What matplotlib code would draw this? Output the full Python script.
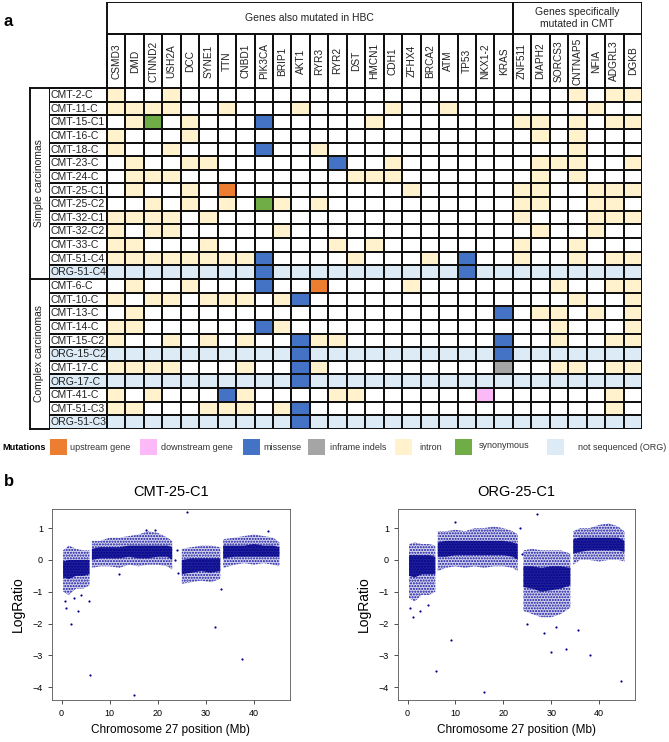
import numpy as np
import matplotlib
matplotlib.use('Agg')
import matplotlib.pyplot as plt
from matplotlib.colors import ListedColormap
from matplotlib.patches import Rectangle

plt.rcParams['font.family'] = ['Liberation Sans', 'DejaVu Sans']
plt.rcParams['hatch.linewidth'] = 1.0

# ---- panel a data ----
genes_hbc = ['CSMD3', 'DMD', 'CTNND2', 'USH2A', 'DCC', 'SYNE1', 'TTN', 'CNBD1', 'PIK3CA',
             'BRIP1', 'AKT1', 'RYR3', 'RYR2', 'DST', 'HMCN1', 'CDH1', 'ZFHX4', 'BRCA2',
             'ATM', 'TP53', 'NKX1-2', 'KRAS']
genes_cmt = ['ZNF511', 'DIAPH2', 'SORCS3', 'CNTNAP5', 'NFIA', 'ADGRL3', 'DGKB']
genes = genes_hbc + genes_cmt

simple = ['CMT-2-C', 'CMT-11-C', 'CMT-15-C1', 'CMT-16-C', 'CMT-18-C', 'CMT-23-C', 'CMT-24-C',
          'CMT-25-C1', 'CMT-25-C2', 'CMT-32-C1', 'CMT-32-C2', 'CMT-33-C', 'CMT-51-C4', 'ORG-51-C4']
complex_ = ['CMT-6-C', 'CMT-10-C', 'CMT-13-C', 'CMT-14-C', 'CMT-15-C2', 'ORG-15-C2', 'CMT-17-C',
            'ORG-17-C', 'CMT-41-C', 'CMT-51-C3', 'ORG-51-C3']
samples = simple + complex_

intron = {
    'CMT-2-C': ['CSMD3', 'USH2A', 'CNTNAP5', 'ADGRL3', 'DGKB'],
    'CMT-11-C': ['CSMD3', 'DMD', 'CTNND2', 'USH2A', 'TTN', 'AKT1', 'CDH1', 'ATM', 'NFIA'],
    'CMT-15-C1': ['DMD', 'DCC', 'HMCN1', 'ZNF511', 'DIAPH2', 'CNTNAP5', 'ADGRL3', 'DGKB'],
    'CMT-16-C': ['CSMD3', 'DCC', 'DIAPH2', 'CNTNAP5'],
    'CMT-18-C': ['CSMD3', 'USH2A', 'RYR3', 'CNTNAP5'],
    'CMT-23-C': ['DMD', 'DCC', 'SYNE1', 'CDH1', 'DIAPH2', 'SORCS3', 'CNTNAP5', 'DGKB'],
    'CMT-24-C': ['DMD', 'CTNND2', 'USH2A', 'DST', 'HMCN1', 'CDH1', 'DIAPH2', 'CNTNAP5'],
    'CMT-25-C1': ['DMD', 'DCC', 'ZFHX4', 'ZNF511', 'DIAPH2', 'NFIA', 'ADGRL3', 'DGKB'],
    'CMT-25-C2': ['CTNND2', 'DCC', 'TTN', 'BRIP1', 'RYR3', 'ZNF511', 'DIAPH2', 'NFIA', 'ADGRL3'],
    'CMT-32-C1': ['CSMD3', 'DMD', 'CTNND2', 'USH2A', 'SYNE1', 'ZNF511', 'NFIA', 'ADGRL3', 'DGKB'],
    'CMT-32-C2': ['CSMD3', 'CTNND2', 'USH2A', 'BRIP1', 'DIAPH2', 'NFIA'],
    'CMT-33-C': ['CSMD3', 'DMD', 'SYNE1', 'RYR2', 'HMCN1', 'ZNF511', 'CNTNAP5'],
    'CMT-51-C4': ['CSMD3', 'DMD', 'CTNND2', 'USH2A', 'DCC', 'SYNE1', 'TTN', 'CNBD1', 'DST',
                  'BRCA2', 'ZNF511', 'CNTNAP5', 'ADGRL3', 'DGKB'],
    'CMT-6-C': ['DMD', 'DCC', 'ZFHX4', 'SORCS3', 'ADGRL3', 'DGKB'],
    'CMT-10-C': ['CSMD3', 'CTNND2', 'USH2A', 'SYNE1', 'TTN', 'CNBD1', 'BRIP1', 'CNTNAP5', 'DGKB'],
    'CMT-13-C': ['DMD', 'DIAPH2', 'SORCS3', 'NFIA', 'DGKB'],
    'CMT-14-C': ['CSMD3', 'DMD', 'BRIP1', 'SORCS3', 'DGKB'],
    'CMT-15-C2': ['CSMD3', 'USH2A', 'SYNE1', 'CNBD1', 'RYR3', 'RYR2', 'SORCS3', 'ADGRL3', 'DGKB'],
    'CMT-17-C': ['CSMD3', 'DMD', 'CTNND2', 'USH2A', 'CNBD1', 'RYR3', 'SORCS3', 'CNTNAP5',
                 'ADGRL3', 'DGKB'],
    'CMT-41-C': ['CSMD3', 'CTNND2', 'CNBD1', 'RYR2', 'DST', 'ADGRL3'],
    'CMT-51-C3': ['CSMD3', 'DMD', 'SYNE1', 'TTN', 'CNBD1', 'BRIP1', 'ADGRL3'],
}

coding = {
    'CMT-15-C1': [('CTNND2', 'synonymous'), ('PIK3CA', 'missense')],
    'CMT-18-C': [('PIK3CA', 'missense')],
    'CMT-23-C': [('RYR2', 'missense')],
    'CMT-25-C1': [('TTN', 'upstream')],
    'CMT-25-C2': [('PIK3CA', 'synonymous')],
    'CMT-51-C4': [('PIK3CA', 'missense'), ('TP53', 'missense')],
    'ORG-51-C4': [('PIK3CA', 'missense'), ('TP53', 'missense')],
    'CMT-6-C': [('PIK3CA', 'missense'), ('RYR3', 'upstream')],
    'CMT-10-C': [('AKT1', 'missense')],
    'CMT-13-C': [('KRAS', 'missense')],
    'CMT-14-C': [('PIK3CA', 'missense')],
    'CMT-15-C2': [('AKT1', 'missense'), ('KRAS', 'missense')],
    'ORG-15-C2': [('AKT1', 'missense'), ('KRAS', 'missense')],
    'CMT-17-C': [('AKT1', 'missense'), ('KRAS', 'inframe')],
    'ORG-17-C': [('AKT1', 'missense')],
    'CMT-41-C': [('TTN', 'missense'), ('NKX1-2', 'downstream')],
    'CMT-51-C3': [('AKT1', 'missense')],
    'ORG-51-C3': [('AKT1', 'missense')],
}

cat_names = ['none', 'upstream', 'downstream', 'missense', 'inframe', 'intron', 'synonymous', 'notseq']
cat_colors = ['#FFFFFF', '#ED7D31', '#FBB9F7', '#4472C4', '#A5A5A5', '#FFF2CC', '#70AD47', '#DDEBF7']
legend_labels = ['upstream gene', 'downstream gene', 'missense', 'inframe indels', 'intron',
                 'synonymous', 'not sequenced (ORG)']

# ---- panel b data: chromosome 27 log-ratio profiles ----
# positions in Mb; outer and dense-core envelopes of the point cloud, NaN = gap
cmt_x       = [0.3, 1.5, 3.0, 4.5, 5.8, np.nan, 6.3, 8, 10, 12, 14, 16, 18, 20, 22, 23.0, np.nan,
               25.0, 27, 29, 31, 33.0, np.nan, 33.6, 36, 38, 40, 42, 44, 45.3]
cmt_lo      = [-1.0, -1.1, -0.9, -0.9, -0.8, np.nan, -0.25, -0.2, -0.2, -0.25, -0.15, -0.2, -0.15, -0.15, -0.2, -0.3, np.nan,
               -0.75, -0.7, -0.65, -0.7, -0.6, np.nan, -0.25, -0.15, -0.1, -0.15, -0.1, -0.15, -0.2]
cmt_hi      = [0.3, 0.45, 0.35, 0.3, 0.3, np.nan, 0.6, 0.6, 0.7, 0.7, 0.75, 0.8, 0.9, 0.85, 0.7, 0.6, np.nan,
               0.35, 0.4, 0.45, 0.45, 0.4, np.nan, 0.65, 0.7, 0.75, 0.8, 0.75, 0.7, 0.55]
cmt_core_lo = [-0.55, -0.6, -0.5, -0.5, -0.45, np.nan, 0.0, 0.05, 0.05, 0.05, 0.1, 0.05, 0.05, 0.1, 0.1, 0.0, np.nan,
               -0.45, -0.4, -0.35, -0.4, -0.35, np.nan, 0.05, 0.1, 0.1, 0.1, 0.1, 0.1, 0.1]
cmt_core_hi = [-0.05, 0.0, 0.0, 0.0, 0.0, np.nan, 0.35, 0.4, 0.4, 0.4, 0.45, 0.45, 0.45, 0.45, 0.45, 0.4, np.nan,
               0.0, 0.05, 0.05, 0.05, 0.05, np.nan, 0.45, 0.45, 0.45, 0.5, 0.45, 0.45, 0.4]
cmt_out_x = [1.0, 2.0, 2.5, 3.4, 5.6, 6.0, 15.0, 24.0, 24.3, 26.0, 32.0, 37.5, 17.5, 19.5, 43.0,
             0.6, 4.0, 23.6, 33.2, 12.0]
cmt_out_y = [-1.5, -2.0, -1.2, -1.6, -1.3, -3.6, -4.25, 0.3, -0.4, 1.5, -2.1, -3.1, 0.95, 0.95, 0.9,
             -1.3, -1.1, 0.0, -0.9, -0.45]

org_x       = [0.3, 1.5, 3.0, 4.5, 5.8, np.nan, 6.3, 8, 10, 12, 14, 16, 18, 20, 22, 23.0, np.nan,
               24.2, 26, 28, 30, 32, 34.0, np.nan, 34.6, 36, 38, 40, 42, 44, 45.3]
org_lo      = [-1.2, -1.3, -1.1, -1.1, -1.0, np.nan, -0.35, -0.25, -0.2, -0.25, -0.2, -0.25, -0.2, -0.2, -0.25, -0.35, np.nan,
               -1.6, -1.7, -1.8, -1.8, -1.7, -1.5, np.nan, -0.15, 0.0, 0.0, -0.05, 0.0, 0.0, -0.05]
org_hi      = [0.5, 0.55, 0.5, 0.5, 0.45, np.nan, 0.9, 0.9, 0.95, 0.9, 1.0, 1.0, 1.05, 1.0, 0.9, 0.8, np.nan,
               0.3, 0.35, 0.3, 0.3, 0.3, 0.2, np.nan, 0.9, 1.0, 1.0, 1.1, 1.15, 1.05, 0.9]
org_core_lo = [-0.5, -0.55, -0.45, -0.45, -0.45, np.nan, 0.1, 0.1, 0.15, 0.15, 0.15, 0.15, 0.15, 0.15, 0.1, 0.0, np.nan,
               -0.85, -0.9, -1.0, -0.95, -0.9, -0.8, np.nan, 0.2, 0.25, 0.3, 0.3, 0.3, 0.3, 0.25]
org_core_hi = [0.15, 0.15, 0.15, 0.15, 0.1, np.nan, 0.55, 0.6, 0.6, 0.6, 0.6, 0.6, 0.6, 0.6, 0.55, 0.5, np.nan,
               -0.2, -0.2, -0.25, -0.2, -0.2, -0.25, np.nan, 0.65, 0.7, 0.7, 0.7, 0.7, 0.7, 0.6]
org_out_x = [0.5, 1.2, 6.0, 9.0, 16.0, 23.5, 27.0, 28.5, 30.0, 33.0, 38.0, 44.5, 35.5, 10.0,
             2.5, 4.2, 25.0, 31.0, 23.8]
org_out_y = [-1.5, -1.8, -3.5, -2.5, -4.15, 1.0, 1.45, -2.3, -2.9, -2.8, -3.0, -3.8, -2.2, 1.2,
             -1.6, -1.4, -2.0, -2.1, 0.2]

# ---- figure ----
W, H = 669, 742
fig = plt.figure(figsize=(W / 100, H / 100), dpi=100)

# pixel layout of the grid
gx0, gx1 = 107, 642        # gene columns
lx0 = 49                   # row label column
gy_top, gy0, gy1 = 2, 34, 88
gy_bot = 429
ncol, nrow = len(genes), len(samples)
cw = (gx1 - gx0) / ncol
rh = (gy_bot - gy1) / nrow
lab_w = (gx0 - lx0) / cw
hdr_h = (gy1 - gy0) / rh
grp_h = (gy0 - gy_top) / rh

ax = fig.add_axes([lx0 / W, 1 - gy_bot / H, (gx1 - lx0) / W, (gy_bot - gy_top) / H])
ax.set_xlim(-lab_w, ncol)
ax.set_ylim(nrow, -hdr_h - grp_h)
ax.axis('off')

codes = np.zeros((nrow, ncol + 1), dtype=int)
for i, s in enumerate(samples):
    if s.startswith('ORG'):
        codes[i, :] = cat_names.index('notseq')
    for g in intron.get(s, []):
        codes[i, genes.index(g) + 1] = cat_names.index('intron')
    for g, kind in coding.get(s, []):
        codes[i, genes.index(g) + 1] = cat_names.index(kind)

xe = np.concatenate([[-lab_w], np.arange(ncol + 1)])
ye = np.arange(nrow + 1)
cmap = ListedColormap(cat_colors)
ax.pcolormesh(xe, ye, codes, cmap=cmap, vmin=-0.5, vmax=len(cat_colors) - 0.5,
              edgecolors='#111111', linewidth=1.4)
# gene header cells
ax.pcolormesh(np.arange(ncol + 1), [-hdr_h, 0], np.zeros((1, ncol)), cmap=cmap,
              vmin=-0.5, vmax=len(cat_colors) - 0.5, edgecolors='#111111', linewidth=1.4)
for x0, x1 in [(0, len(genes_hbc)), (len(genes_hbc), ncol)]:
    ax.add_patch(Rectangle((x0, -hdr_h - grp_h), x1 - x0, grp_h, fill=False,
                           edgecolor='#111111', linewidth=1.4))
ax.text(len(genes_hbc) / 2, -hdr_h - grp_h / 2, 'Genes also mutated in HBC',
        ha='center', va='center', fontsize=7.5, color='#222222')
ax.text((len(genes_hbc) + ncol) / 2, -hdr_h - grp_h / 2, 'Genes specifically\nmutated in CMT',
        ha='center', va='center', fontsize=7.5, linespacing=1.3, color='#222222')
for j, g in enumerate(genes):
    ax.text(j + 0.5, -hdr_h / 2, g, rotation=90, ha='center', va='center', fontsize=7.3,
            color='#222222')
for i, s in enumerate(samples):
    ax.text(-lab_w + 0.1, i + 0.52, s, ha='left', va='center', fontsize=7.6, color='#222222')

# overlay in pixel coordinates for annotations
ov = fig.add_axes([0, 0, 1, 1])
ov.set_xlim(0, W)
ov.set_ylim(H, 0)
ov.axis('off')
ov.patch.set_alpha(0)

ov.text(4, 22, 'a', fontsize=12, fontweight='bold', va='center')
ov.text(4, 482, 'b', fontsize=12, fontweight='bold', va='center')

# row group bracket
sep_y = gy1 + len(simple) * rh
ov.plot([30, 30], [gy1, gy_bot], color='#111111', lw=1.4)
for yy in [gy1, sep_y, gy_bot]:
    ov.plot([30, lx0], [yy, yy], color='#111111', lw=1.4)
ov.text(39, (gy1 + sep_y) / 2, 'Simple carcinomas', rotation=90, ha='center', va='center',
        fontsize=7.5, color='#222222')
ov.text(39, (sep_y + gy_bot) / 2, 'Complex carcinomas', rotation=90, ha='center', va='center',
        fontsize=7.5, color='#222222')

# legend
leg_y = 447
ov.text(2, leg_y, 'Mutations', fontweight='bold', fontsize=6.6, va='center')
patch_x = [50, 140, 243, 308, 395, 455, 547]
text_x = [70, 161, 263, 330, 419, 479, 578]
for k, lab in enumerate(legend_labels):
    ov.add_patch(Rectangle((patch_x[k], leg_y - 8), 17, 16, color=cat_colors[k + 1], lw=0))
    ov.text(text_x[k], leg_y - (2 if lab == 'synonymous' else 0), lab, fontsize=6.5,
            va='center', color='#333333')

# panel b scatter plots
def cn_panel(rect, title, x, lo, hi, clo, chi, ox, oy):
    a = fig.add_axes([rect[0] / W, 1 - rect[3] / H, (rect[2] - rect[0]) / W, (rect[3] - rect[1]) / H])
    a.fill_between(x, lo, hi, color='#1010A0', alpha=0.18, lw=0)
    a.fill_between(x, lo, hi, facecolor='none', edgecolor='#1010A0', hatch='......', lw=0)
    a.fill_between(x, clo, chi, color='#00008B', alpha=0.85, lw=0)
    a.scatter(ox, oy, s=2.5, color='#00008B', lw=0)
    a.set_xlim(-2, 47.5)
    a.set_ylim(-4.4, 1.6)
    a.set_xticks([0, 10, 20, 30, 40])
    a.set_yticks([-4, -3, -2, -1, 0, 1])
    a.tick_params(labelsize=6.5, length=3, width=0.6, color='#333333')
    for sp in a.spines.values():
        sp.set_linewidth(0.6)
        sp.set_color('#555555')
    a.set_title(title, fontsize=10.5, pad=9)
    a.set_xlabel('Chromosome 27 position (Mb)', fontsize=8.5, labelpad=4)
    a.set_ylabel('LogRatio', fontsize=10, labelpad=6)
    return a

cn_panel((52, 509, 290, 700), 'CMT-25-C1', cmt_x, cmt_lo, cmt_hi, cmt_core_lo, cmt_core_hi,
         cmt_out_x, cmt_out_y)
cn_panel((398, 509, 635, 700), 'ORG-25-C1', org_x, org_lo, org_hi, org_core_lo, org_core_hi,
         org_out_x, org_out_y)

fig.savefig('out.png', dpi=100)
